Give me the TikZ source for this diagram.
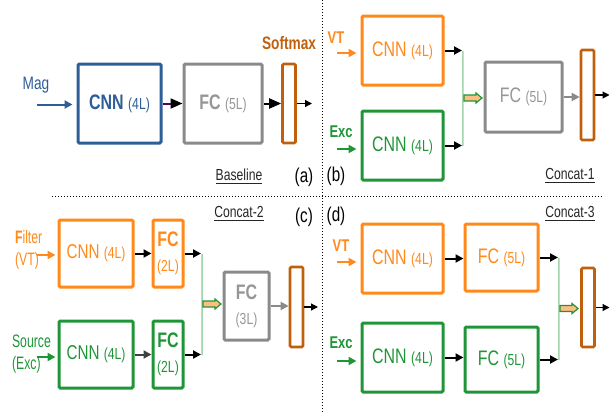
\documentclass[tikz,border=0pt]{standalone}
\usepackage{fontspec}
\setmainfont{Liberation Sans}[FakeStretch=0.76]
\newfontfamily\condensed{Liberation Sans}[FakeStretch=0.68]
\usepackage{tikz}
\usetikzlibrary{arrows.meta, calc}
\usepackage{xcolor}
\definecolor{cblue}{RGB}{46,94,152}
\definecolor{corange}{RGB}{255,137,26}
\definecolor{cgreen}{RGB}{30,150,55}
\definecolor{cgray}{RGB}{138,138,138}
\definecolor{cbrown}{RGB}{192,96,12}
\newcommand{\subl}[1]{{\fontsize{8}{9}\selectfont #1}}

\begin{document}
\begin{tikzpicture}[x=0.5pt, y=-0.5pt,
  box/.style={draw, line width=1.5pt, rounded corners=0.6pt, inner sep=1pt, align=center, font=\fontsize{10.5}{11}\selectfont},
  smax/.style={draw=cbrown, line width=1.3pt, rounded corners=0.6pt, minimum width=6.5pt, inner sep=0pt},
  arr/.style={line width=1pt, -{Triangle[length=4pt, width=4pt]}},
  arrthin/.style={line width=0.6pt, -{Triangle[length=3.5pt, width=3.5pt]}},
  inarr/.style={arr, shorten >=2pt},
  lab/.style={font=\fontsize{8.5}{10}\selectfont},
  labc/.style={font=\condensed\fontsize{9}{11}\selectfont, align=left, anchor=west},
  catline/.style={line width=0.5pt},
  fat/.style={draw=cgreen, fill=corange!55, line width=0.6pt},
  tag/.style={font=\fontsize{8}{10}\selectfont, text=black!85},
  panel/.style={font=\fontsize{10}{12}\selectfont},
  divider/.style={line width=0.5pt, dash pattern=on 0.5pt off 1pt}
]
  \useasboundingbox (0,0) rectangle (610,412);

  % dividers
  \draw[divider] (322,0) -- (322,412);
  \draw[divider] (52,196) -- (603,196);

  % (a) Baseline
  \node[box, draw=cblue, text=cblue, minimum width=41.5pt, minimum height=39.5pt] (cnnA) at (119.5,103.5) {\textbf{CNN} \subl{(4L)}};
  \node[box, draw=cgray, text=cgray!90, minimum width=39pt, minimum height=39.5pt] (fcA) at (223,103.5) {\textbf{FC} \subl{(5L)}};
  \node[smax, minimum height=39.5pt] (smA) at (289,103.5) {};
  \node[lab, text=cbrown, font=\fontsize{9}{10}\selectfont] (smlabA) at (289,43) {\textbf{Softmax}};
  \node[lab, text=cblue, font=\fontsize{9}{10}\selectfont] (magA) at (36,85) {Mag};
  \coordinate (inA) at (37,104.5);
  \coordinate (outA) at (312,103.5);
  \draw[inarr, cblue] (inA) -- (inA -| cnnA.west);
  \draw[arr, violet!70!black, -{Triangle[black, length=6pt, width=5pt]}] (cnnA) -- (fcA);
  \draw[arr, -{Triangle[length=6pt, width=5pt]}] (fcA) -- (smA);
  \draw[arrthin] (smA) -- (outA);
  \node[tag] (tagA) at (239,177) {\underline{Baseline}};
  \node[panel] (pA) at (304,177) {(a)};

  % (b) Concat-1
  \node[box, draw=corange, text=corange, minimum width=40.5pt, minimum height=34.5pt] (cnnvB) at (402.5,50.5) {CNN \subl{(4L)}};
  \node[box, draw=cgreen, text=cgreen, minimum width=40.5pt, minimum height=34.5pt] (cnneB) at (402.5,145.5) {CNN \subl{(4L)}};
  \node[lab, text=corange] (vtB) at (336,38) {\textbf{VT}};
  \node[lab, text=cgreen] (excB) at (341,132) {\textbf{Exc}};
  \coordinate (invB) at (337,53);
  \coordinate (ineB) at (337,149);
  \draw[inarr, corange] (invB) -- (invB -| cnnvB.west);
  \draw[inarr, cgreen] (ineB) -- (ineB -| cnneB.west);
  \coordinate (catvB) at (462,50.5);
  \coordinate (cateB) at (462,145.5);
  \draw[arr] (cnnvB) -- (catvB);
  \draw[arr] (cnneB) -- (cateB);
  \draw[catline, cgreen!40] (catvB) -- (cateB);
  \draw[catline, corange!45] ([xshift=0.6pt]catvB) -- ([xshift=0.6pt]cateB);
  \draw[fat] ($(catvB)!0.5!(cateB)$) ++(2,-3) -- ++(12,0) -- ++(0,-2) -- ++(6,5) -- ++(-6,5) -- ++(0,-2) -- ++(-12,0) -- cycle;
  \node[box, draw=cgray, text=cgray!90, minimum width=38.5pt, minimum height=35pt] (fcB) at (523.5,97) {FC \subl{(5L)}};
  \node[smax, minimum height=45pt] (smB) at (587.5,95) {};
  \coordinate (outB) at (609.5,95);
  \draw[arr, cgray] (fcB.east) -- (fcB.east -| smB.west);
  \draw[arrthin] (smB) -- (outB);
  \node[tag] (tagB) at (570,176) {\underline{Concat-1}};
  \node[panel] (pB) at (336,176) {(b)};

  % (c) Concat-2
  \node[box, draw=corange, text=corange, font=\fontsize{10}{11}\selectfont, minimum width=37pt, minimum height=33.5pt] (cnnvC) at (96,253.5) {CNN \subl{(4L)}};
  \node[box, draw=corange, text=corange, minimum width=15pt, minimum height=33.5pt] (fcvC) at (168,253.5) {\textbf{FC}\\[1.5pt]\subl{(2L)}};
  \node[box, draw=cgreen, text=cgreen, font=\fontsize{10}{11}\selectfont, minimum width=37pt, minimum height=33.5pt] (cnneC) at (96,354.5) {CNN \subl{(4L)}};
  \node[box, draw=cgreen, text=cgreen, minimum width=15pt, minimum height=33.5pt] (fceC) at (168,354.5) {\textbf{FC}\\[1.5pt]\subl{(2L)}};
  \node[labc, text=corange] (filC) at (8,250) {\textbf{F}ilter\\(VT)};
  \node[labc, text=cgreen] (srcC) at (5,354.5) {Source\\(Exc)};
  \coordinate (invC) at (37,255);
  \coordinate (ineC) at (37,357);
  \draw[inarr, corange, shorten >=1pt] (invC) -- (invC -| cnnvC.west);
  \draw[inarr, cgreen, shorten >=1pt] (ineC) -- (ineC -| cnneC.west);
  \draw[arr] (cnnvC) -- (fcvC);
  \draw[arr, black!75] (cnneC) -- (fceC);
  \coordinate (catvC) at (201,253.5);
  \coordinate (cateC) at (201,354.5);
  \draw[arr] (fcvC) -- (catvC);
  \draw[arr] (fceC) -- (cateC);
  \draw[catline, corange!50] (catvC) -- (cateC);
  \draw[catline, cgreen!40] ([xshift=0.6pt]catvC) -- ([xshift=0.6pt]cateC);
  \draw[fat] ($(catvC)!0.5!(cateC)$) ++(2,-3) -- ++(12,0) -- ++(0,-2) -- ++(6,5) -- ++(-6,5) -- ++(0,-2) -- ++(-12,0) -- cycle;
  \node[box, draw=cgray, text=cgray!90, minimum width=22.5pt, minimum height=34pt] (fcC) at (246.5,306) {\textbf{FC}\\[1.5pt]\subl{(3L)}};
  \node[smax, minimum height=40pt] (smC) at (296.5,307) {};
  \coordinate (outC) at (318,307);
  \draw[arr, cgray] (fcC.east) -- (fcC.east -| smC.west);
  \draw[arrthin] (smC) -- (outC);
  \node[tag] (tagC) at (239,214) {\underline{Concat-2}};
  \node[panel] (pC) at (304,217) {(c)};

  % (d) Concat-3
  \node[box, draw=corange, text=corange, minimum width=40.5pt, minimum height=34.5pt] (cnnvD) at (402.5,258.5) {CNN \subl{(4L)}};
  \node[box, draw=corange, text=corange, minimum width=36.5pt, minimum height=33.5pt] (fcvD) at (501.5,257.5) {FC \subl{(5L)}};
  \node[box, draw=cgreen, text=cgreen, minimum width=40.5pt, minimum height=34.5pt] (cnneD) at (402.5,357.5) {CNN \subl{(4L)}};
  \node[box, draw=cgreen, text=cgreen, minimum width=36.5pt, minimum height=32.5pt] (fceD) at (501.5,359.5) {FC \subl{(5L)}};
  \node[lab, text=corange] (vtD) at (341,246) {\textbf{VT}};
  \node[lab, text=cgreen] (excD) at (341,343) {\textbf{Exc}};
  \coordinate (invD) at (337,262);
  \coordinate (ineD) at (337,361);
  \draw[inarr, corange] (invD) -- (invD -| cnnvD.west);
  \draw[inarr, cgreen] (ineD) -- (ineD -| cnneD.west);
  \draw[arr] (cnnvD.east) -- (cnnvD.east -| fcvD.west);
  \draw[arr] (cnneD.east) -- (cnneD.east -| fceD.west);
  \coordinate (catvD) at (558,257.5);
  \coordinate (cateD) at (558,359.5);
  \draw[arr] (fcvD) -- (catvD);
  \draw[arr] (fceD) -- (cateD);
  \draw[catline, cgreen!40] (catvD) -- (cateD);
  \draw[catline, corange!45] ([xshift=0.6pt]catvD) -- ([xshift=0.6pt]cateD);
  \draw[fat] ($(catvD)!0.5!(cateD)$) ++(2,-3) -- ++(12,0) -- ++(0,-2) -- ++(6,5) -- ++(-6,5) -- ++(0,-2) -- ++(-12,0) -- cycle;
  \node[smax, minimum height=39.5pt] (smD) at (588,307.5) {};
  \coordinate (outD) at (609.5,307.5);
  \draw[arrthin] (smD) -- (outD);
  \node[tag] (tagD) at (570,214) {\underline{Concat-3}};
  \node[panel] (pD) at (336,216) {(d)};
\end{tikzpicture}
\end{document}
